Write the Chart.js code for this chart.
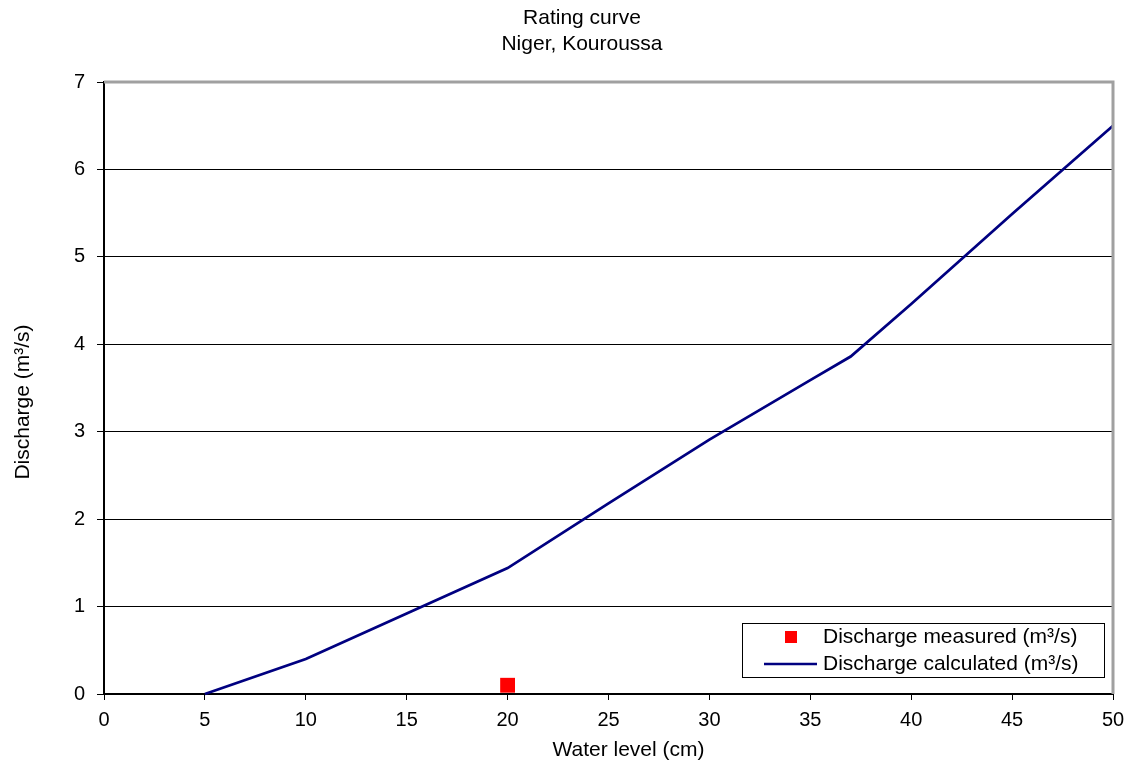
<!DOCTYPE html>
<html>
<head>
<meta charset="utf-8">
<title>Rating curve – Niger, Kouroussa</title>
<script src="https://cdn.jsdelivr.net/npm/chart.js@4/dist/chart.umd.min.js"></script>
<style>
  html, body { margin: 0; padding: 0; background: #fff; }
  #wrap { width: 1134px; height: 764px; }
</style>
</head>
<body>
<div id="wrap"><canvas id="chart" width="1134" height="764"></canvas></div>
<script>
// Water level (cm) and computed discharge (m³/s) along the rating curve
const waterLevels = [5, 10, 15, 20, 25, 30, 35, 37, 40, 45, 50];
const dischargeCalculated = [0, 0.40, 0.92, 1.44, 2.18, 2.91, 3.59, 3.86, 4.46, 5.49, 6.5];

// Gauged discharge measurements
const measuredLevels = [20];
const measuredDischarge = [0.1];

// Axis ticks
const xTicks = [0, 5, 10, 15, 20, 25, 30, 35, 40, 45, 50];
const yTicks = [0, 1, 2, 3, 4, 5, 6, 7];

const titleLines = ['Rating curve', 'Niger, Kouroussa'];
const xAxisTitle = 'Water level (cm)';
const yAxisTitle = 'Discharge (m³/s)';
const seriesLabels = ['Discharge measured (m³/s)', 'Discharge calculated (m³/s)'];

const FONT = "'Liberation Sans', Arial, sans-serif";
const NAVY = '#000080';
const RED = '#ff0000';

const toPoints = (xs, ys) => xs.map((x, i) => ({ x, y: ys[i] }));

// Grey frame on the top and right sides of the plot area
const plotFrame = {
  id: 'plotFrame',
  afterDatasetsDraw(chart) {
    const { ctx, chartArea: a } = chart;
    ctx.save();
    ctx.strokeStyle = '#a0a0a0';
    ctx.lineWidth = 3;
    ctx.beginPath();
    ctx.moveTo(a.left, a.top);
    ctx.lineTo(a.right, a.top);
    ctx.lineTo(a.right, a.bottom);
    ctx.stroke();
    ctx.restore();
  }
};

// Axis titles, placed a little off the plot-area centre
const axisTitles = {
  id: 'axisTitles',
  afterDraw(chart) {
    const { ctx, chartArea: a } = chart;
    ctx.save();
    ctx.fillStyle = '#000';
    ctx.font = '21px ' + FONT;
    ctx.textAlign = 'center';
    ctx.textBaseline = 'middle';
    ctx.fillText(xAxisTitle, (a.left + a.right) / 2 + 20, a.bottom + 56);
    ctx.translate(23, (a.top + a.bottom) / 2 + 14);
    ctx.rotate(-Math.PI / 2);
    ctx.fillText(yAxisTitle, 0, 0);
    ctx.restore();
  }
};

// Boxed legend inside the lower right of the plot area
const boxedLegend = {
  id: 'boxedLegend',
  afterDraw(chart) {
    const { ctx, chartArea: a } = chart;
    const w = 362, h = 54;
    const right = a.right - 9, bottom = a.bottom - 17;
    const left = right - w, top = bottom - h;
    ctx.save();
    ctx.fillStyle = '#fff';
    ctx.fillRect(left, top, w, h);
    ctx.strokeStyle = '#000';
    ctx.lineWidth = 1;
    ctx.strokeRect(Math.round(left) + 0.5, Math.round(top) + 0.5, w, h);

    const ds = chart.data.datasets;
    const row1 = top + 14, row2 = top + 41;
    // measured marker
    ctx.fillStyle = ds[0].pointBackgroundColor;
    ctx.fillRect(left + 43, row1 - 6, 12, 12);
    // calculated line sample
    ctx.strokeStyle = ds[1].borderColor;
    ctx.lineWidth = 2.5;
    ctx.beginPath();
    ctx.moveTo(left + 22, row2);
    ctx.lineTo(left + 75, row2);
    ctx.stroke();

    ctx.fillStyle = '#000';
    ctx.font = '21px ' + FONT;
    ctx.textBaseline = 'middle';
    ctx.textAlign = 'left';
    ctx.fillText(ds[0].label, left + 81, row1);
    ctx.fillText(ds[1].label, left + 81, row2);
    ctx.restore();
  }
};

new Chart(document.getElementById('chart'), {
  type: 'scatter',
  data: {
    datasets: [
      {
        label: seriesLabels[0],
        data: toPoints(measuredLevels, measuredDischarge),
        pointStyle: 'rect',
        pointRadius: 10.5,
        pointHoverRadius: 10.5,
        pointBackgroundColor: RED,
        pointBorderColor: RED,
        pointBorderWidth: 0,
        showLine: false
      },
      {
        label: seriesLabels[1],
        data: toPoints(waterLevels, dischargeCalculated),
        showLine: true,
        borderColor: NAVY,
        borderWidth: 2.75,
        pointRadius: 0,
        pointHoverRadius: 0,
        tension: 0,
        clip: false
      }
    ]
  },
  options: {
    responsive: false,
    animation: false,
    devicePixelRatio: 1,
    layout: { padding: { left: 30, right: 0, top: 0, bottom: 0 } },
    plugins: {
      legend: { display: false },
      tooltip: { enabled: false },
      title: {
        display: true,
        text: titleLines,
        color: '#000',
        font: { family: FONT, size: 21, weight: 'normal', lineHeight: 1.2 },
        padding: { top: 6, bottom: 25.6 }
      }
    },
    scales: {
      x: {
        type: 'linear',
        position: 'bottom',
        min: 0,
        max: 50,
        afterBuildTicks: s => { s.ticks = xTicks.map(v => ({ value: v })); },
        afterFit: s => { s.height = 70; },
        ticks: {
          color: '#000',
          font: { family: FONT, size: 20 },
          padding: 8,
          maxRotation: 0
        },
        grid: {
          drawOnChartArea: false,
          drawTicks: true,
          tickLength: 6,
          color: '#000',
          lineWidth: 1
        },
        border: { display: true, color: '#000', width: 2 }
      },
      y: {
        type: 'linear',
        position: 'left',
        min: 0,
        max: 7,
        afterBuildTicks: s => { s.ticks = yTicks.map(v => ({ value: v })); },
        afterFit: s => { s.width = 74; },
        ticks: {
          color: '#000',
          font: { family: FONT, size: 20 },
          padding: 12
        },
        grid: {
          drawOnChartArea: true,
          drawTicks: true,
          tickLength: 7,
          color: '#000',
          lineWidth: 1
        },
        border: { display: true, color: '#000', width: 2 }
      },
      yRight: {
        type: 'linear',
        position: 'right',
        display: true,
        min: 0,
        max: 7,
        ticks: { display: false },
        grid: { display: false, drawTicks: false },
        border: { display: false },
        afterFit: s => { s.width = 21; }
      }
    }
  },
  plugins: [plotFrame, axisTitles, boxedLegend]
});
</script>
</body>
</html>
